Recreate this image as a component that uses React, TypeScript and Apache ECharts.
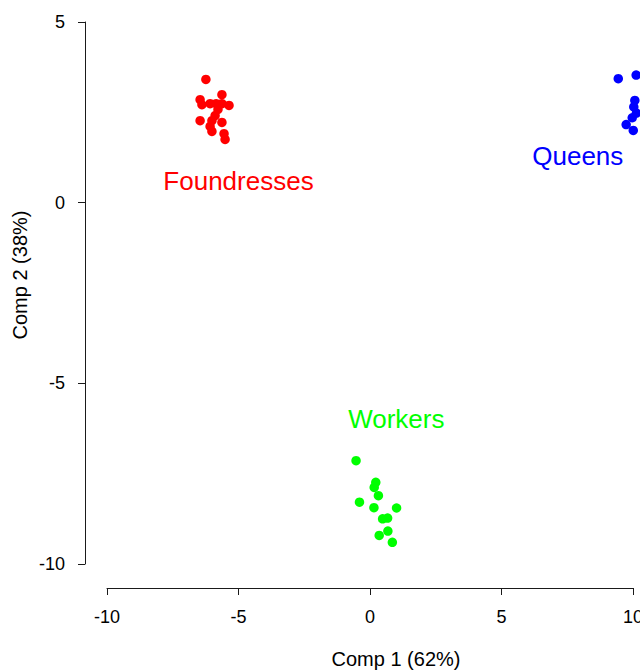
import React, { useEffect, useRef } from "react";
import * as echarts from "echarts";

// PCA scores per caste: [Comp 1, Comp 2]
const foundresses: number[][] = [
  [-6.24, 3.41], [-6.46, 2.85], [-5.63, 2.99], [-6.39, 2.71], [-6.08, 2.74],
  [-5.85, 2.74], [-5.63, 2.74], [-5.36, 2.69], [-5.78, 2.58], [-5.89, 2.41],
  [-6.01, 2.27], [-5.63, 2.22], [-6.46, 2.27], [-6.08, 2.11], [-6.01, 1.97],
  [-5.55, 1.91], [-5.51, 1.75],
];
const queens: number[][] = [
  [9.44, 3.43], [10.12, 3.53], [10.07, 2.83], [10.03, 2.65], [10.13, 2.48],
  [9.97, 2.35], [9.74, 2.16], [10.01, 2.0],
];
const workers: number[][] = [
  [-0.53, -7.14], [0.22, -7.74], [0.16, -7.88], [0.32, -8.11], [-0.4, -8.29],
  [0.15, -8.44], [1.01, -8.45], [0.48, -8.75], [0.67, -8.73], [0.68, -9.09],
  [0.35, -9.21], [0.85, -9.4],
];

// Group names and where they are written
const groupNames = ["Foundresses", "Queens", "Workers"];
const groupLabelPos: number[][] = [[-5.0, 0.6], [7.9, 1.3], [1.0, -6.0]];
const groupColors = ["#ff0000", "#0000ff", "#00ff00"];

const xTitle = "Comp 1 (62%)";
const yTitle = "Comp 2 (38%)";

const FONT = "'Liberation Sans', Arial, sans-serif";
const AXIS_COLOR = "#1a1a1a";

export default function App() {
  const ref = useRef<HTMLDivElement>(null);

  useEffect(() => {
    if (!ref.current) return;
    const chart = echarts.init(ref.current, undefined, { renderer: "svg" });
    const groups = [foundresses, queens, workers];

    const pointSeries = groups.map((pts, i) => ({
      type: "scatter",
      name: groupNames[i],
      data: pts,
      symbol: "circle",
      symbolSize: 9.5,
      clip: false,
      itemStyle: { color: groupColors[i], opacity: 1 },
      z: 3,
    }));

    const labelSeries = groupNames.map((name, i) => ({
      type: "scatter",
      data: [{ value: groupLabelPos[i], name }],
      symbolSize: 0,
      clip: false,
      silent: true,
      itemStyle: { color: groupColors[i], opacity: 1 },
      label: {
        show: true,
        position: "inside",
        formatter: "{b}",
        color: groupColors[i],
        opacity: 1,
        fontSize: 26,
        fontFamily: FONT,
      },
      z: 4,
    }));

    chart.setOption({
      animation: false,
      backgroundColor: "#ffffff",
      textStyle: { fontFamily: FONT },
      grid: {
        left: 107,
        top: 22,
        width: 526,
        height: 542,
        containLabel: false,
        outerBoundsMode: "none",
      },
      xAxis: {
        type: "value",
        min: -10,
        max: 10,
        interval: 5,
        offset: 24,
        axisLine: { show: true, onZero: false, lineStyle: { color: AXIS_COLOR, width: 1 } },
        axisTick: { show: true, inside: false, length: 7, lineStyle: { color: AXIS_COLOR } },
        axisLabel: { color: "#000", fontSize: 18, margin: 20, fontFamily: FONT },
        splitLine: { show: false },
      },
      yAxis: {
        type: "value",
        min: -10,
        max: 5,
        interval: 5,
        offset: 22,
        axisLine: { show: true, onZero: false, lineStyle: { color: AXIS_COLOR, width: 1 } },
        axisTick: { show: true, inside: false, length: 7, lineStyle: { color: AXIS_COLOR } },
        axisLabel: { color: "#000", fontSize: 18, margin: 20, fontFamily: FONT },
        splitLine: { show: false },
      },
      graphic: [
        {
          type: "text",
          x: 396,
          y: 659,
          style: {
            text: xTitle,
            fill: "#000",
            font: `20px ${FONT}`,
            align: "center",
            verticalAlign: "middle",
          },
        },
        {
          type: "text",
          x: 20,
          y: 275,
          rotation: Math.PI / 2,
          style: {
            text: yTitle,
            fill: "#000",
            font: `20px ${FONT}`,
            align: "center",
            verticalAlign: "middle",
          },
        },
      ],
      series: [...pointSeries, ...labelSeries],
    });

    return () => chart.dispose();
  }, []);

  return (
    <div
      ref={ref}
      style={{ position: "fixed", left: 0, top: 0, width: 640, height: 670, background: "#fff" }}
    />
  );
}
